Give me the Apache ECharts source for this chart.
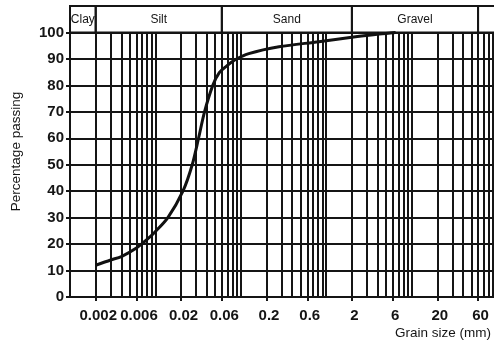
<!DOCTYPE html>
<html>
<head>
<meta charset="utf-8">
<script src="https://cdn.jsdelivr.net/npm/echarts@6/dist/echarts.min.js"></script>
<style>
html,body{margin:0;padding:0;background:#fff;}
#chart{width:494px;height:353px;}
</style>
</head>
<body>
<div id="chart"></div>
<script>
// Grain size (mm) and percentage passing of the grading curve
var grainSize = [0.002, 0.003, 0.004, 0.006, 0.008, 0.0095, 0.014, 0.021, 0.027, 0.032, 0.0376, 0.047, 0.056, 0.068, 0.085, 0.124, 0.28, 0.82, 2, 4.2, 6.5];
var percentPassing = [12, 14, 15.3, 18.5, 21.8, 24, 30, 40, 50, 60, 70, 80, 84.8, 87.3, 89.6, 92, 94.6, 96.5, 98.2, 99.4, 100];

// Axis tick labels
var xTickLabels = [0.002, 0.006, 0.02, 0.06, 0.2, 0.6, 2, 6, 20, 60];
var yTickLabels = [0, 10, 20, 30, 40, 50, 60, 70, 80, 90, 100];

// Log grid lines (1..9 x 10^k)
var xGridLines = [
  0.001, 0.002, 0.003, 0.004, 0.005, 0.006, 0.007, 0.008, 0.009,
  0.01, 0.02, 0.03, 0.04, 0.05, 0.06, 0.07, 0.08, 0.09,
  0.1, 0.2, 0.3, 0.4, 0.5, 0.6, 0.7, 0.8, 0.9,
  1, 2, 3, 4, 5, 6, 7, 8, 9,
  10, 20, 30, 40, 50, 60, 70, 80, 90, 100
];

// Soil classification bands
var bandNames = ['Clay', 'Silt', 'Sand', 'Gravel', ''];
var bandFrom = [0.001, 0.002, 0.06, 2, 60];
var bandTo = [0.002, 0.06, 2, 60, 100];

var sans = "'Liberation Sans', Arial, sans-serif";
var ink = '#151515';

var chart = echarts.init(document.getElementById('chart'), null, {renderer: 'canvas'});

var curve = grainSize.map(function (g, i) { return [g, percentPassing[i]]; });

var gridLineData = xGridLines.map(function (v) {
  return [{coord: [v, 0]}, {coord: [v, 100]}];
});

var bandData = bandNames.map(function (n, i) {
  return [{name: n, coord: [bandFrom[i], 100]}, {coord: [bandTo[i], 110]}];
});

function fmt(v) {
  return String(parseFloat(Number(v).toPrecision(3)));
}

chart.setOption({
  animation: false,
  backgroundColor: '#fff',
  title: {
    text: 'Grain size (mm)',
    right: 3,
    top: 326,
    padding: 0,
    textStyle: {fontFamily: sans, fontSize: 13.5, fontWeight: 'normal', color: ink}
  },
  grid: {
    left: 70,
    top: 6,
    width: 427,
    height: 291,
    outerBoundsMode: 'none',
    containLabel: false
  },
  xAxis: {
    type: 'log',
    logBase: 10,
    min: 0.001,
    max: 100,
    axisLine: {show: true, lineStyle: {color: ink, width: 2}},
    axisTick: {show: true, length: 4, customValues: xTickLabels, lineStyle: {color: ink, width: 2}},
    axisLabel: {
      customValues: xTickLabels,
      formatter: fmt,
      margin: 11,
      padding: [0, 0, 0, 5],
      fontFamily: sans,
      fontWeight: 'bold',
      fontSize: 15,
      color: ink
    },
    splitLine: {show: false},
    minorTick: {show: false},
    minorSplitLine: {show: false}
  },
  yAxis: {
    type: 'value',
    min: 0,
    max: 110,
    interval: 10,
    name: 'Percentage passing',
    nameLocation: 'middle',
    nameGap: 47,
    nameRotate: 90,
    nameTextStyle: {fontFamily: sans, fontSize: 13.5, color: ink},
    axisLine: {show: true, lineStyle: {color: ink, width: 2}},
    axisTick: {show: true, length: 4, customValues: yTickLabels, lineStyle: {color: ink, width: 2}},
    axisLabel: {
      customValues: yTickLabels,
      margin: 6,
      fontFamily: sans,
      fontWeight: 'bold',
      fontSize: 15,
      color: ink
    },
    splitLine: {show: true, lineStyle: {color: ink, width: 2}}
  },
  series: [
    {
      type: 'line',
      data: [],
      silent: true,
      z: 1,
      markLine: {
        silent: true,
        symbol: ['none', 'none'],
        label: {show: false},
        emphasis: {disabled: true},
        animation: false,
        lineStyle: {color: ink, width: 2, type: 'solid'},
        data: gridLineData
      },
      markArea: {
        silent: true,
        itemStyle: {color: 'rgba(255,255,255,0)', borderColor: ink, borderWidth: 2},
        label: {
          show: true,
          position: 'inside',
          fontFamily: sans,
          fontSize: 12,
          color: ink
        },
        emphasis: {disabled: true},
        data: bandData
      }
    },
    {
      type: 'line',
      data: curve,
      z: 10,
      smooth: 0.3,
      showSymbol: false,
      symbol: 'none',
      lineStyle: {color: '#111', width: 3},
      silent: true
    }
  ]
});
</script>
</body>
</html>
